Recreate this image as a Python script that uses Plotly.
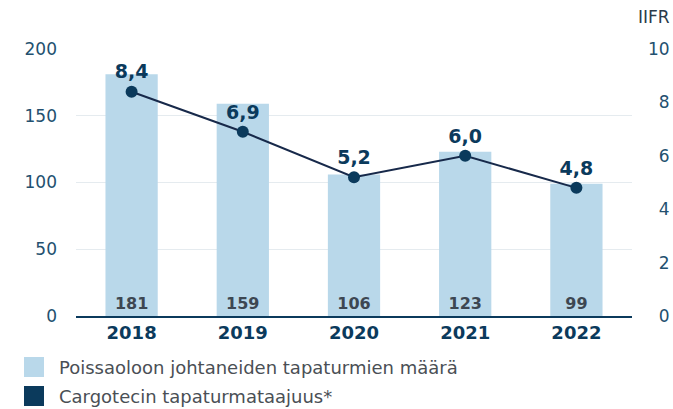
import plotly.graph_objects as go

years = ["2018", "2019", "2020", "2021", "2022"]
accidents = [181, 159, 106, 123, 99]
iifr = [8.4, 6.9, 5.2, 6.0, 4.8]
left_ticks = [0, 50, 100, 150, 200]
right_ticks = [0, 2, 4, 6, 8, 10]

NAVY = "#0b3a5c"
TICK = "#23506f"
BAR = "#b9d8ea"
FONT = "DejaVu Sans"

W, H = 673, 409
L, T, R, B = 76, 49, 41, 93
PW, PH = W - L - R, H - T - B

fig = go.Figure()

fig.add_trace(go.Bar(
    x=years, y=accidents, marker=dict(color=BAR, line=dict(width=0)),
    text=[str(v) for v in accidents], textposition="inside",
    insidetextanchor="start", textangle=0,
    textfont=dict(family=FONT, size=16, color="#3d4752", weight="bold"),
    cliponaxis=False, showlegend=False, yaxis="y",
))

fig.add_trace(go.Scatter(
    x=years, y=iifr, yaxis="y2", mode="lines+markers+text",
    line=dict(color="#17294a", width=2),
    marker=dict(color=NAVY, size=12),
    text=[f"{v:.1f}".replace(".", ",") for v in iifr],
    textposition="top center",
    textfont=dict(family=FONT, size=19, color=NAVY, weight="bold"),
    cliponaxis=False, showlegend=False,
))

fig.update_layout(
    width=W, height=H,
    margin=dict(l=L, r=R, t=T, b=B, autoexpand=False),
    paper_bgcolor="white", plot_bgcolor="white",
    bargap=0.53,
    font=dict(family=FONT),
    xaxis=dict(
        showline=True, linecolor=NAVY, linewidth=1.5,
        tickfont=dict(family=FONT, size=18, color=NAVY, weight="bold"),
        ticks="", showgrid=False, automargin=False,
    ),
    yaxis=dict(
        range=[0, 200], tickvals=left_ticks, showgrid=True,
        gridcolor="#e5ebef", gridwidth=1, zeroline=False,
        tickfont=dict(family=FONT, size=17, color=TICK),
        ticklabelstandoff=18, automargin=False,
    ),
    yaxis2=dict(
        range=[0, 10], overlaying="y", side="right",
        tickvals=right_ticks,
        ticktext=[("\u00a0\u00a0" + str(v)) if v < 10 else str(v) for v in right_ticks],
        showgrid=False, zeroline=False,
        tickfont=dict(family=FONT, size=17, color=TICK),
        ticklabelstandoff=15, automargin=False,
    ),
    showlegend=False,
)

fig.add_annotation(
    text="IIFR", xref="paper", yref="paper",
    x=(672 - L) / PW, y=(H - B - 17) / PH,
    xanchor="right", yanchor="middle", showarrow=False,
    font=dict(family=FONT, size=17, color="#2a3a4a"),
)

# custom legend
legend_items = [("Poissaoloon johtaneiden tapaturmien määrä", BAR),
                ("Cargotecin tapaturmataajuus*", NAVY)]
for i, (label, color) in enumerate(legend_items):
    top = 357 + i * 29
    fig.add_shape(
        type="rect", xref="paper", yref="paper",
        x0=(24 - L) / PW, x1=(44 - L) / PW,
        y0=(H - B - top) / PH, y1=(H - B - top - 20) / PH,
        fillcolor=color, line=dict(width=0),
    )
    fig.add_annotation(
        text=label, xref="paper", yref="paper",
        x=(57 - L) / PW, y=(H - B - top - 10) / PH,
        xanchor="left", yanchor="middle", showarrow=False,
        font=dict(family=FONT, size=18, color="#4a4f55"),
    )

fig.write_html(
    "out.html",
    config={"displayModeBar": False},
    post_script="document.body.style.margin='0';document.body.style.overflow='hidden';",
)
